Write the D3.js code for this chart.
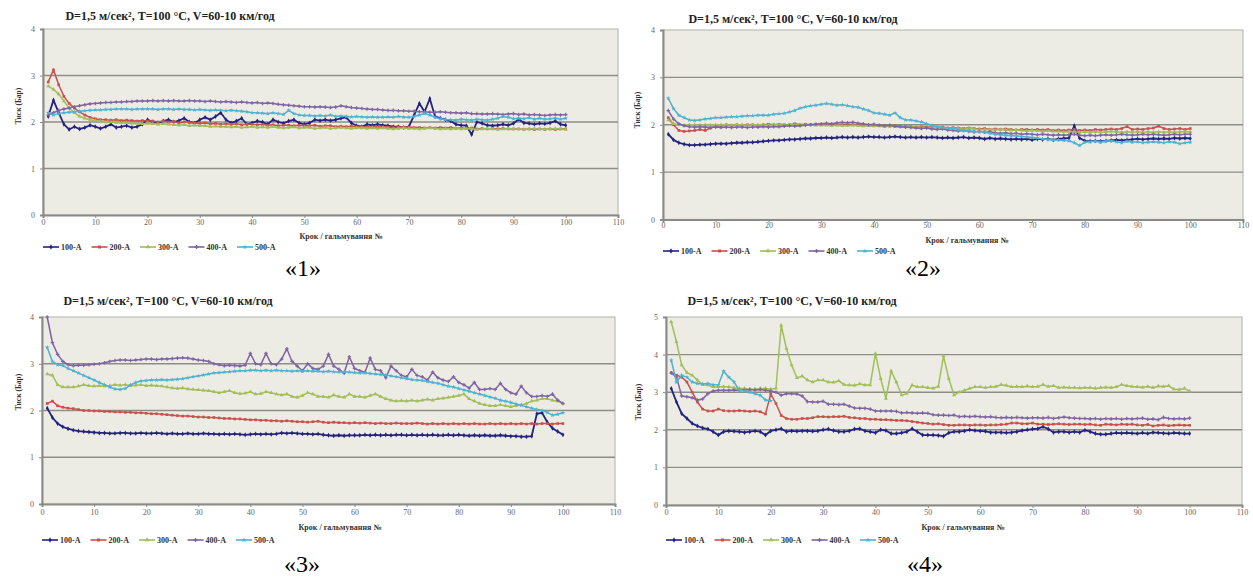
<!DOCTYPE html>
<html>
<head>
<meta charset="utf-8">
<script src="https://cdnjs.cloudflare.com/ajax/libs/d3/7.8.5/d3.min.js"></script>
<style>
body { margin: 0; background: #fff; }
</style>
</head>
<body>
<script>
// Назви серій, кольори, підписи
var names = ["100-A", "200-A", "300-A", "400-A", "500-A"];
var colors = ["#23237f", "#c9514d", "#a2bd5a", "#7f64a3", "#4eb2d1"];
var xTicks = [0, 10, 20, 30, 40, 50, 60, 70, 80, 90, 100, 110];
var title = "D=1,5 м/сек², T=100 °C, V=60-10 км/год";
var xTitle = "Крок / гальмування №";
var yTitle = "Тиск (Бар)";
var captions = ["«1»", "«2»", "«3»", "«4»"];

// «1»
var p1_100 = [2.12,2.47,2.20,1.95,1.84,1.90,1.85,1.88,1.93,1.90,
  1.86,1.90,1.95,1.88,1.90,1.92,1.88,1.90,1.95,2.05,
  2.00,1.98,2.02,2.05,2.00,2.03,2.08,2.00,1.98,2.05,
  2.10,2.05,2.12,2.20,2.05,1.98,2.02,2.08,1.95,1.98,
  2.02,2.00,1.95,2.05,2.00,1.97,2.02,2.05,1.98,1.95,
  1.98,2.05,2.03,2.05,2.03,2.05,2.08,2.10,1.98,1.92,
  1.90,1.95,1.93,1.95,1.93,1.92,1.90,1.90,1.88,1.90,
  2.15,2.40,2.22,2.50,2.12,2.08,2.05,2.02,1.95,1.93,
  1.92,1.73,2.00,1.97,1.93,1.92,1.93,1.95,1.93,1.97,
  2.06,1.98,1.97,1.95,1.97,1.96,1.98,2.02,1.95,1.93];
var p1_200 = [2.86,3.12,2.80,2.55,2.40,2.30,2.22,2.15,2.10,2.07,
  2.05,2.05,2.04,2.05,2.03,2.04,2.03,2.02,2.03,2.02,
  2.02,2.00,2.02,2.00,2.01,1.98,2.00,1.99,1.98,1.97,
  1.98,1.96,1.97,1.95,1.96,1.95,1.96,1.94,1.95,1.95,
  1.94,1.95,1.93,1.94,1.92,1.93,1.93,1.92,1.93,1.92,
  1.92,1.93,1.91,1.92,1.92,1.90,1.91,1.90,1.91,1.90,
  1.90,1.89,1.90,1.89,1.90,1.89,1.88,1.89,1.88,1.89,
  1.88,1.88,1.87,1.88,1.87,1.88,1.87,1.88,1.86,1.87,
  1.86,1.87,1.85,1.86,1.85,1.86,1.85,1.86,1.85,1.85,
  1.85,1.84,1.85,1.84,1.85,1.84,1.85,1.84,1.85,1.85];
var p1_300 = [2.77,2.70,2.60,2.45,2.30,2.20,2.12,2.08,2.05,2.03,
  2.02,2.00,2.00,1.99,1.98,1.98,1.97,1.97,1.96,1.97,
  1.96,1.95,1.96,1.95,1.94,1.93,1.94,1.92,1.93,1.92,
  1.92,1.90,1.91,1.90,1.90,1.89,1.90,1.88,1.89,1.90,
  1.88,1.89,1.88,1.90,1.88,1.87,1.88,1.89,1.87,1.88,
  1.88,1.86,1.87,1.88,1.86,1.87,1.88,1.87,1.86,1.87,
  1.87,1.86,1.87,1.86,1.87,1.86,1.85,1.86,1.87,1.86,
  1.86,1.85,1.86,1.87,1.86,1.85,1.86,1.85,1.86,1.85,
  1.86,1.85,1.84,1.85,1.86,1.85,1.84,1.85,1.86,1.85,
  1.85,1.84,1.85,1.86,1.85,1.84,1.85,1.86,1.85,1.84];
var p1_400 = [2.15,2.20,2.25,2.28,2.30,2.33,2.35,2.37,2.39,2.40,
  2.41,2.42,2.42,2.43,2.43,2.44,2.44,2.45,2.45,2.45,
  2.46,2.45,2.46,2.45,2.46,2.45,2.45,2.46,2.45,2.45,
  2.44,2.45,2.44,2.43,2.44,2.43,2.42,2.43,2.42,2.41,
  2.42,2.40,2.41,2.40,2.38,2.37,2.36,2.35,2.34,2.33,
  2.33,2.32,2.33,2.32,2.31,2.32,2.35,2.33,2.31,2.30,
  2.29,2.28,2.27,2.27,2.26,2.25,2.25,2.24,2.24,2.23,
  2.23,2.22,2.22,2.21,2.21,2.22,2.21,2.20,2.20,2.19,
  2.20,2.18,2.18,2.17,2.17,2.18,2.17,2.16,2.17,2.18,
  2.16,2.17,2.15,2.16,2.15,2.14,2.15,2.16,2.15,2.16];
var p1_500 = [2.20,2.15,2.18,2.20,2.21,2.22,2.23,2.24,2.25,2.26,
  2.26,2.27,2.27,2.28,2.28,2.28,2.27,2.28,2.28,2.28,
  2.28,2.27,2.28,2.28,2.27,2.28,2.27,2.27,2.26,2.27,
  2.26,2.25,2.26,2.25,2.24,2.25,2.24,2.23,2.22,2.20,
  2.20,2.19,2.18,2.20,2.18,2.16,2.25,2.18,2.15,2.14,
  2.14,2.13,2.14,2.13,2.15,2.12,2.13,2.12,2.11,2.12,
  2.11,2.10,2.11,2.10,2.10,2.11,2.10,2.12,2.10,2.10,
  2.12,2.15,2.18,2.15,2.10,2.07,2.05,2.05,2.04,2.06,
  2.05,2.04,2.06,2.05,2.04,2.06,2.08,2.12,2.10,2.07,
  2.08,2.07,2.09,2.06,2.08,2.06,2.07,2.08,2.06,2.08];

// «2»
var p2_100 = [1.80,1.68,1.62,1.59,1.57,1.57,1.58,1.58,1.59,1.60,
  1.60,1.60,1.61,1.62,1.62,1.63,1.63,1.64,1.65,1.66,
  1.67,1.67,1.68,1.69,1.69,1.70,1.71,1.71,1.72,1.72,
  1.73,1.72,1.73,1.74,1.73,1.74,1.73,1.74,1.75,1.74,
  1.74,1.73,1.74,1.75,1.74,1.73,1.74,1.73,1.74,1.73,
  1.74,1.73,1.72,1.73,1.72,1.73,1.74,1.72,1.73,1.72,
  1.70,1.72,1.70,1.71,1.70,1.69,1.70,1.69,1.70,1.68,
  1.70,1.69,1.70,1.68,1.70,1.71,1.72,1.98,1.72,1.66,
  1.65,1.66,1.65,1.66,1.67,1.68,1.67,1.68,1.69,1.70,
  1.69,1.70,1.71,1.70,1.71,1.70,1.72,1.71,1.72,1.71];
var p2_200 = [2.15,2.00,1.88,1.86,1.87,1.88,1.90,1.88,1.93,1.97,
  1.98,2.00,1.98,2.00,1.99,2.00,2.00,1.99,2.00,2.01,
  2.00,2.01,2.00,2.00,2.02,2.00,2.01,2.00,2.01,2.00,
  2.00,2.01,2.00,1.99,2.00,2.00,1.99,2.00,1.99,1.98,
  1.99,1.98,1.97,1.98,1.97,1.96,1.97,1.95,1.96,1.95,
  1.95,1.94,1.95,1.93,1.94,1.93,1.92,1.93,1.92,1.91,
  1.92,1.90,1.91,1.90,1.91,1.90,1.89,1.90,1.90,1.89,
  1.90,1.89,1.90,1.88,1.89,1.88,1.89,1.90,1.88,1.89,
  1.88,1.90,1.89,1.90,1.91,1.90,1.92,1.96,1.90,1.91,
  1.90,1.92,1.93,1.97,1.92,1.90,1.91,1.92,1.90,1.92];
var p2_300 = [2.10,2.02,2.00,1.99,2.00,2.00,1.99,2.00,1.99,2.00,
  2.00,2.00,1.99,2.00,2.00,1.99,2.00,2.00,2.00,1.99,
  2.00,2.00,1.99,2.00,2.00,1.99,2.00,2.00,1.99,1.99,
  1.99,1.98,1.99,1.98,1.98,1.99,1.98,1.97,1.98,1.97,
  1.97,1.96,1.97,1.96,1.96,1.95,1.96,1.95,1.94,1.94,
  1.93,1.94,1.93,1.92,1.93,1.92,1.91,1.92,1.91,1.90,
  1.90,1.90,1.89,1.90,1.89,1.88,1.89,1.88,1.87,1.88,
  1.87,1.86,1.87,1.86,1.86,1.85,1.86,1.85,1.84,1.85,
  1.84,1.85,1.84,1.85,1.86,1.85,1.84,1.85,1.84,1.85,
  1.84,1.85,1.84,1.85,1.84,1.85,1.84,1.85,1.86,1.85];
var p2_400 = [2.30,2.12,2.02,1.98,1.96,1.95,1.96,1.95,1.94,1.95,
  1.94,1.95,1.94,1.95,1.95,1.94,1.95,1.95,1.96,1.95,
  1.96,1.96,1.97,1.98,1.97,1.98,1.99,2.00,2.01,2.02,
  2.03,2.02,2.04,2.05,2.04,2.05,2.03,2.02,2.00,2.01,
  1.99,1.98,1.99,1.97,1.96,1.95,1.94,1.93,1.92,1.93,
  1.91,1.90,1.91,1.89,1.88,1.87,1.88,1.86,1.85,1.86,
  1.84,1.85,1.83,1.82,1.83,1.81,1.82,1.80,1.81,1.80,
  1.79,1.80,1.79,1.78,1.79,1.78,1.79,1.80,1.78,1.77,
  1.78,1.77,1.78,1.79,1.78,1.79,1.80,1.79,1.78,1.79,
  1.80,1.79,1.80,1.79,1.78,1.79,1.80,1.79,1.80,1.80];
var p2_500 = [2.56,2.34,2.20,2.15,2.10,2.09,2.10,2.12,2.13,2.15,
  2.15,2.16,2.17,2.17,2.18,2.19,2.19,2.20,2.20,2.20,
  2.22,2.23,2.24,2.27,2.30,2.35,2.38,2.40,2.41,2.43,
  2.45,2.43,2.41,2.42,2.40,2.38,2.37,2.33,2.30,2.25,
  2.24,2.22,2.20,2.25,2.15,2.10,2.10,2.08,2.06,2.02,
  1.99,1.96,1.94,1.93,1.92,1.90,1.88,1.88,1.86,1.85,
  1.84,1.82,1.80,1.79,1.78,1.77,1.76,1.75,1.74,1.73,
  1.72,1.70,1.69,1.68,1.68,1.67,1.66,1.62,1.56,1.63,
  1.64,1.65,1.63,1.65,1.66,1.64,1.62,1.65,1.63,1.64,
  1.62,1.63,1.64,1.63,1.62,1.64,1.63,1.60,1.62,1.63];

// «3»
var p3_100 = [2.05,1.85,1.72,1.65,1.61,1.58,1.56,1.55,1.54,1.53,
  1.52,1.52,1.51,1.51,1.52,1.52,1.51,1.51,1.52,1.51,
  1.51,1.52,1.51,1.50,1.51,1.50,1.50,1.51,1.50,1.50,
  1.51,1.50,1.50,1.49,1.50,1.49,1.50,1.49,1.48,1.49,
  1.50,1.49,1.50,1.49,1.50,1.52,1.51,1.52,1.51,1.50,
  1.50,1.49,1.50,1.48,1.47,1.46,1.47,1.46,1.47,1.47,
  1.47,1.48,1.47,1.48,1.47,1.48,1.47,1.48,1.48,1.47,
  1.48,1.47,1.48,1.47,1.48,1.47,1.47,1.48,1.47,1.48,
  1.47,1.46,1.47,1.46,1.47,1.46,1.46,1.47,1.46,1.45,
  1.45,1.44,1.44,1.45,1.93,1.95,1.75,1.62,1.55,1.48];
var p3_200 = [2.15,2.20,2.10,2.07,2.05,2.04,2.02,2.00,2.00,1.99,
  1.99,1.98,1.98,1.97,1.97,1.96,1.96,1.95,1.95,1.94,
  1.93,1.93,1.92,1.91,1.90,1.89,1.88,1.88,1.87,1.86,
  1.86,1.85,1.85,1.84,1.83,1.83,1.82,1.82,1.81,1.80,
  1.80,1.79,1.79,1.78,1.78,1.77,1.78,1.77,1.76,1.76,
  1.75,1.76,1.77,1.75,1.74,1.75,1.74,1.74,1.73,1.74,
  1.73,1.74,1.73,1.72,1.73,1.72,1.72,1.73,1.72,1.72,
  1.72,1.73,1.72,1.71,1.72,1.71,1.72,1.71,1.72,1.71,
  1.72,1.71,1.72,1.71,1.71,1.72,1.71,1.72,1.71,1.72,
  1.71,1.72,1.71,1.72,1.71,1.72,1.72,1.71,1.72,1.72];
var p3_300 = [2.78,2.75,2.55,2.50,2.50,2.50,2.52,2.55,2.53,2.52,
  2.53,2.52,2.53,2.55,2.54,2.55,2.53,2.54,2.55,2.53,
  2.54,2.53,2.52,2.50,2.48,2.47,2.48,2.46,2.45,2.44,
  2.43,2.42,2.40,2.38,2.40,2.42,2.38,2.36,2.37,2.40,
  2.35,2.36,2.40,2.38,2.35,2.33,2.35,2.30,2.28,2.32,
  2.38,2.35,2.30,2.30,2.28,2.33,2.30,2.28,2.35,2.30,
  2.30,2.28,2.32,2.35,2.30,2.25,2.22,2.20,2.21,2.20,
  2.22,2.20,2.22,2.24,2.22,2.25,2.26,2.28,2.30,2.32,
  2.35,2.25,2.20,2.15,2.12,2.10,2.10,2.12,2.10,2.08,
  2.10,2.12,2.15,2.20,2.22,2.25,2.25,2.22,2.20,2.15];
var p3_400 = [4.00,3.45,3.20,3.05,2.98,2.96,2.97,2.97,2.98,2.99,
  3.00,3.02,3.05,3.07,3.08,3.08,3.07,3.08,3.09,3.10,
  3.10,3.09,3.10,3.10,3.11,3.12,3.13,3.12,3.10,3.08,
  3.07,3.05,3.00,2.98,2.96,2.97,2.96,2.95,2.97,3.22,
  3.00,2.98,3.22,3.00,2.98,3.10,3.32,3.05,2.95,2.85,
  3.00,2.90,2.88,2.95,3.20,2.95,2.88,2.80,3.15,2.90,
  2.85,2.82,3.12,2.88,2.85,2.70,2.95,2.85,2.75,2.72,
  2.88,2.75,2.72,2.65,2.82,2.70,2.65,2.62,2.72,2.60,
  2.55,2.48,2.60,2.45,2.45,2.47,2.45,2.58,2.45,2.38,
  2.35,2.52,2.38,2.30,2.30,2.32,2.30,2.35,2.22,2.15];
var p3_500 = [3.35,3.05,2.98,2.96,2.90,2.85,2.80,2.75,2.70,2.65,
  2.60,2.55,2.50,2.46,2.45,2.47,2.55,2.60,2.63,2.64,
  2.65,2.65,2.66,2.65,2.66,2.67,2.68,2.70,2.72,2.74,
  2.76,2.78,2.80,2.81,2.82,2.83,2.84,2.85,2.85,2.86,
  2.86,2.85,2.86,2.85,2.86,2.85,2.85,2.84,2.85,2.84,
  2.85,2.84,2.84,2.83,2.84,2.83,2.82,2.83,2.82,2.81,
  2.80,2.80,2.79,2.78,2.77,2.76,2.74,2.72,2.70,2.68,
  2.66,2.65,2.64,2.62,2.60,2.58,2.55,2.52,2.50,2.47,
  2.44,2.41,2.38,2.35,2.32,2.29,2.26,2.22,2.20,2.17,
  2.14,2.11,2.08,2.05,2.02,2.00,1.96,1.90,1.92,1.95];

// «4»
var p4_100 = [3.10,2.74,2.43,2.30,2.17,2.10,2.05,2.02,1.95,1.86,
  1.95,1.97,1.96,1.95,1.93,1.95,1.97,1.95,1.86,1.97,
  2.00,2.03,1.95,1.97,1.96,1.97,1.97,1.96,1.97,2.00,
  2.02,1.98,1.95,1.95,1.97,2.02,2.03,1.97,1.95,1.92,
  2.00,1.98,1.90,1.90,1.92,1.95,2.03,1.95,1.86,1.86,
  1.86,1.85,1.83,1.92,1.95,1.95,1.97,2.00,1.98,1.97,
  1.96,1.93,1.93,1.93,1.92,1.93,1.95,1.98,2.00,2.02,
  2.03,2.08,2.02,1.93,1.95,1.95,1.93,1.95,1.93,1.99,
  1.95,1.90,1.88,1.88,1.90,1.92,1.91,1.92,1.91,1.90,
  1.92,1.90,1.93,1.92,1.91,1.90,1.92,1.91,1.90,1.90];
var p4_200 = [3.52,3.45,3.40,3.27,3.00,2.74,2.55,2.50,2.50,2.55,
  2.51,2.50,2.50,2.51,2.50,2.49,2.50,2.48,2.42,2.95,
  2.70,2.38,2.30,2.28,2.28,2.30,2.30,2.32,2.35,2.35,
  2.34,2.35,2.35,2.36,2.33,2.32,2.30,2.30,2.28,2.28,
  2.27,2.27,2.26,2.25,2.25,2.24,2.22,2.20,2.18,2.17,
  2.15,2.16,2.14,2.12,2.12,2.13,2.13,2.12,2.13,2.13,
  2.12,2.13,2.13,2.14,2.15,2.18,2.18,2.16,2.16,2.18,
  2.15,2.15,2.14,2.15,2.16,2.15,2.14,2.15,2.15,2.14,
  2.15,2.13,2.12,2.15,2.14,2.13,2.15,2.14,2.15,2.13,
  2.12,2.14,2.10,2.12,2.13,2.11,2.12,2.13,2.12,2.12];
var p4_300 = [4.87,4.34,3.72,3.52,3.45,3.32,3.20,3.19,3.14,3.14,
  3.15,3.14,3.12,3.10,3.10,3.08,3.08,3.10,3.10,3.08,
  3.10,4.78,4.16,3.72,3.38,3.43,3.32,3.27,3.32,3.32,
  3.27,3.26,3.30,3.20,3.19,3.18,3.22,3.19,3.19,4.03,
  3.36,2.83,3.56,3.27,2.92,2.96,3.19,3.14,3.14,3.12,
  3.10,3.15,3.96,3.36,2.92,3.00,3.05,3.10,3.14,3.14,
  3.12,3.14,3.15,3.20,3.18,3.14,3.15,3.14,3.16,3.14,
  3.15,3.20,3.15,3.17,3.12,3.13,3.12,3.12,3.11,3.12,
  3.12,3.10,3.12,3.13,3.12,3.14,3.20,3.17,3.15,3.14,
  3.13,3.15,3.12,3.16,3.15,3.17,3.08,3.07,3.10,3.03];
var p4_400 = [3.51,3.40,2.90,2.88,2.85,2.79,2.82,2.96,3.03,3.05,
  3.05,3.05,3.06,3.05,3.06,3.07,3.06,3.07,3.05,3.03,
  3.00,2.92,2.96,2.96,2.95,2.90,2.75,2.74,2.74,2.76,
  2.68,2.68,2.67,2.68,2.63,2.58,2.57,2.57,2.55,2.50,
  2.50,2.50,2.50,2.49,2.45,2.46,2.45,2.44,2.45,2.44,
  2.40,2.39,2.39,2.38,2.39,2.35,2.36,2.35,2.36,2.35,
  2.34,2.35,2.33,2.32,2.33,2.32,2.33,2.32,2.31,2.32,
  2.32,2.31,2.33,2.30,2.32,2.34,2.32,2.31,2.30,2.30,
  2.29,2.30,2.28,2.30,2.29,2.30,2.28,2.30,2.29,2.30,
  2.31,2.28,2.29,2.27,2.33,2.30,2.29,2.30,2.29,2.31];
var p4_500 = [3.85,3.27,3.45,3.40,3.27,3.23,3.22,3.23,3.20,3.19,
  3.56,3.40,3.27,3.05,3.03,3.00,2.96,2.92,2.79,2.77];

var panels = [
  {series: [p1_100, p1_200, p1_300, p1_400, p1_500], yMax: 4, left: 43, right: 618, top: 29, bottom: 215,
   titleX: 170, titleY: 20, yLabX: 21, yLabY: 106, tickY: 227, xTitleX: 341, xTitleY: 239, legY: 247, capX: 303, capY: 276},
  {series: [p2_100, p2_200, p2_300, p2_400, p2_500], yMax: 4, left: 663, right: 1243, top: 30, bottom: 219.5,
   titleX: 793, titleY: 23, yLabX: 640, yLabY: 110, tickY: 230, xTitleX: 967, xTitleY: 243, legY: 251, capX: 923, capY: 276},
  {series: [p3_100, p3_200, p3_300, p3_400, p3_500], yMax: 4, left: 42, right: 615, top: 317, bottom: 504,
   titleX: 168, titleY: 305, yLabX: 21, yLabY: 392, tickY: 517, xTitleX: 340, xTitleY: 530, legY: 540, capX: 302, capY: 572},
  {series: [p4_100, p4_200, p4_300, p4_400, p4_500], yMax: 5, left: 666, right: 1242, top: 317, bottom: 505,
   titleX: 792, titleY: 305, yLabX: 641, yLabY: 402, tickY: 517, xTitleX: 963, xTitleY: 530, legY: 540, capX: 925, capY: 572}
];

var symbols = [d3.symbolDiamond, d3.symbolSquare, d3.symbolTriangle, d3.symbolCross, d3.symbolStar];

var svg = d3.select("body")
  .append("svg")
  .attr("width", 1253)
  .attr("height", 578)
  .style("font-family", "'Liberation Serif', 'Times New Roman', serif");

panels.forEach(function(p, k) {
  var g = svg.append("g");

  var x = d3.scaleLinear().domain([0, 110]).range([p.left, p.right]);
  var y = d3.scaleLinear().domain([0, p.yMax]).range([p.bottom, p.top]);

  // фон області побудови
  g.append("rect")
    .attr("x", p.left).attr("y", p.top)
    .attr("width", p.right - p.left).attr("height", p.bottom - p.top)
    .attr("fill", "#ecebe4")
    .attr("stroke", "#bdbdb8").attr("stroke-width", 1.2);

  // сітка
  g.selectAll(".grid")
    .data(d3.range(1, p.yMax))
    .enter().append("line")
    .attr("x1", p.left).attr("x2", p.right)
    .attr("y1", function(d) { return y(d); })
    .attr("y2", function(d) { return y(d); })
    .attr("stroke", "#8e8e88").attr("stroke-width", 1.4);

  // осі
  var xAxis = g.append("g")
    .attr("transform", "translate(0," + p.bottom + ")")
    .call(d3.axisBottom(x).tickValues(xTicks).tickSize(3).tickPadding(6));
  var yAxis = g.append("g")
    .attr("transform", "translate(" + p.left + ",0)")
    .call(d3.axisLeft(y).ticks(p.yMax).tickSize(3).tickPadding(5));
  [xAxis, yAxis].forEach(function(a) {
    a.select(".domain").attr("stroke", "#8a8a86").attr("stroke-width", 2);
    a.selectAll(".tick line").attr("stroke", "#8a8a86");
    a.selectAll(".tick text")
      .attr("fill", "#666")
      .attr("font-size", "8px")
      .attr("font-family", "'Liberation Serif', serif");
  });
  xAxis.selectAll(".tick text").attr("y", p.tickY - p.bottom - 8).attr("dy", "0.71em");

  // лінії серій
  var line = d3.line()
    .x(function(d, i) { return x(i + 1); })
    .y(function(d) { return y(d); });

  p.series.forEach(function(s, j) {
    g.append("path")
      .datum(s)
      .attr("fill", "none")
      .attr("stroke", colors[j])
      .attr("stroke-width", j == 0 ? 1.8 : 1.5)
      .attr("d", line);
    g.selectAll(".m" + j)
      .data(s)
      .enter().append("path")
      .attr("class", "m" + j)
      .attr("transform", function(d, i) { return "translate(" + x(i + 1) + "," + y(d) + ")"; })
      .attr("d", d3.symbol().type(symbols[j]).size(7))
      .attr("fill", colors[j]);
  });

  // заголовок
  g.append("text")
    .attr("x", p.titleX).attr("y", p.titleY)
    .attr("text-anchor", "middle")
    .attr("font-size", "12px").attr("font-weight", "bold")
    .attr("fill", "#222")
    .text(title);

  // підпис осі Y
  g.append("text")
    .attr("transform", "translate(" + p.yLabX + "," + p.yLabY + ") rotate(-90)")
    .attr("text-anchor", "middle")
    .attr("font-size", "7.5px").attr("font-weight", "bold")
    .attr("fill", "#333")
    .text(yTitle);

  // підпис осі X
  g.append("text")
    .attr("x", p.xTitleX).attr("y", p.xTitleY)
    .attr("text-anchor", "middle")
    .attr("font-size", "8px").attr("font-weight", "bold")
    .attr("fill", "#333")
    .text(xTitle);

  // легенда
  var leg = g.selectAll(".leg")
    .data(names)
    .enter().append("g")
    .attr("transform", function(d, i) { return "translate(" + (p.left + i * 48.5) + "," + p.legY + ")"; });
  leg.append("line")
    .attr("x1", 0).attr("x2", 16)
    .attr("stroke", function(d, i) { return colors[i]; })
    .attr("stroke-width", 1.6);
  leg.append("path")
    .attr("transform", "translate(8,0)")
    .attr("d", function(d, i) { return d3.symbol().type(symbols[i]).size(9)(); })
    .attr("fill", function(d, i) { return colors[i]; });
  leg.append("text")
    .attr("x", 18).attr("y", 3)
    .attr("font-size", "8px").attr("font-weight", "bold")
    .attr("fill", "#333")
    .text(function(d) { return d; });

  // номер рисунка
  svg.append("text")
    .attr("x", p.capX).attr("y", p.capY)
    .attr("text-anchor", "middle")
    .attr("font-size", "24px")
    .attr("fill", "#000")
    .text(captions[k]);
});
</script>
</body>
</html>
